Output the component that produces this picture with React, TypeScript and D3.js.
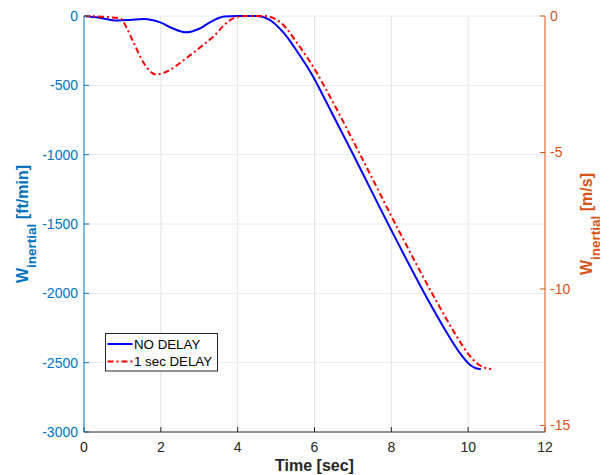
import React from "react";
import * as d3 from "d3";

const xTicks = [0, 2, 4, 6, 8, 10, 12];
const yLeftTicks = [0, -500, -1000, -1500, -2000, -2500, -3000];
const yRightTicks = [0, -5, -10, -15];

const noDelayTime = [0, 0.4, 0.86, 1.2, 1.56, 2.0, 2.3, 2.65, 3.0, 3.3, 3.65, 4.0, 4.5, 4.8, 5.2, 5.54, 5.97, 6.28, 7.0, 8.0, 9.0, 9.5, 9.8, 10.05, 10.2, 10.33];
const noDelayW = [0, -12, -32, -28, -22, -48, -88, -118, -92, -42, -4, 0, 0, -22, -122, -252, -440, -606, -995, -1545, -2070, -2310, -2437, -2517, -2540, -2548];

const delayTime = [0, 0.5, 0.95, 1.1, 1.3, 1.56, 1.87, 2.2, 2.6, 3.1, 3.4, 3.65, 3.9, 4.2, 4.7, 5.0, 5.2, 5.54, 5.97, 6.45, 7.18, 8.19, 9.2, 9.7, 10.0, 10.25, 10.42, 10.6];
const delayW = [0, -6, -18, -80, -197, -341, -421, -395, -317, -209, -140, -65, -15, 0, 0, -25, -68, -192, -368, -606, -995, -1545, -2070, -2310, -2437, -2510, -2536, -2546];

const seriesNames = ["NO DELAY", "1 sec DELAY"];

const LEFT_COLOR = "#0072BD";
const RIGHT_COLOR = "#D95319";
const AX_COLOR = "#262626";
const FONT = "'Liberation Sans', Arial, Helvetica, sans-serif";

export default function App() {
  const left = 84, right = 545, top = 16, bottom = 432;
  const x = d3.scaleLinear().domain([0, 12]).range([left, right]);
  const yL = d3.scaleLinear().domain([-3000, 0]).range([bottom, top]);
  const yR = d3.scaleLinear().domain([-3000 * 0.00508, 0]).range([bottom, top]);

  const line = d3
    .line<[number, number]>()
    .x((d) => x(d[0]))
    .y((d) => yL(d[1]))
    .curve(d3.curveMonotoneX);

  const blue = line(noDelayTime.map((t, i) => [t, noDelayW[i]] as [number, number])) || "";
  const red = line(delayTime.map((t, i) => [t, delayW[i]] as [number, number])) || "";

  const cy = (top + bottom) / 2;
  const cx = (left + right) / 2;

  return (
    <svg width={609} height={475} style={{ position: "absolute", left: 0, top: 0, background: "#fff" }} fontFamily={FONT}>
      <rect x={0} y={0} width={609} height={475} fill="#fff" />
      {/* grid */}
      {xTicks.slice(1, -1).map((t) => (
        <line key={"gx" + t} x1={x(t)} x2={x(t)} y1={top} y2={bottom} stroke="#e3e3e3" strokeWidth={1} />
      ))}
      {yLeftTicks.slice(1, -1).map((v) => (
        <line key={"gy" + v} x1={left} x2={right} y1={yL(v)} y2={yL(v)} stroke="#e2ecf5" strokeWidth={1} />
      ))}
      <line x1={left} x2={right} y1={top} y2={top} stroke="#e2ecf5" strokeWidth={1} />

      {/* curves */}
      <path d={blue} fill="none" stroke="#0000FF" strokeWidth={2} />
      <path d={red} fill="none" stroke="#FF0000" strokeWidth={2} strokeDasharray="6,3,2,3" />

      {/* bottom axis */}
      <line x1={left} x2={right} y1={bottom} y2={bottom} stroke={AX_COLOR} strokeWidth={1} />
      {xTicks.map((t) => (
        <g key={"xt" + t}>
          <line x1={x(t)} x2={x(t)} y1={bottom} y2={bottom - 5} stroke={AX_COLOR} strokeWidth={1} />
          <text x={x(t)} y={452} textAnchor="middle" fontSize={14} fill={AX_COLOR}>
            {t}
          </text>
        </g>
      ))}
      <text x={cx} y={471} textAnchor="middle" fontSize={16} fontWeight="bold" fill={AX_COLOR}>
        Time [sec]
      </text>

      {/* left axis */}
      <line x1={left} x2={left} y1={top} y2={bottom} stroke={LEFT_COLOR} strokeWidth={1} />
      {yLeftTicks.map((v) => (
        <g key={"yl" + v}>
          <line x1={left} x2={left + 5} y1={yL(v)} y2={yL(v)} stroke={LEFT_COLOR} strokeWidth={1} />
          <text x={78} y={yL(v)} dy="0.35em" textAnchor="end" fontSize={14} fill={LEFT_COLOR}>
            {v}
          </text>
        </g>
      ))}
      <text transform={`translate(28,${cy}) rotate(-90)`} textAnchor="middle" fontSize={16} fontWeight="bold" fill={LEFT_COLOR}>
        W<tspan fontSize={13.5} dy={8}>inertial</tspan>
        <tspan dy={-8}> [ft/min]</tspan>
      </text>

      {/* right axis */}
      <line x1={right} x2={right} y1={top} y2={bottom} stroke={RIGHT_COLOR} strokeWidth={1} />
      {yRightTicks.map((v) => (
        <g key={"yr" + v}>
          <line x1={right} x2={right - 5} y1={yR(v)} y2={yR(v)} stroke={RIGHT_COLOR} strokeWidth={1} />
          <text x={550} y={yR(v)} dy="0.35em" textAnchor="start" fontSize={14} fill={RIGHT_COLOR}>
            {v}
          </text>
        </g>
      ))}
      <text transform={`translate(592,${cy}) rotate(-90)`} textAnchor="middle" fontSize={16} fontWeight="bold" fill={RIGHT_COLOR}>
        W<tspan fontSize={13.5} dy={8}>inertial</tspan>
        <tspan dy={-8}> [m/s]</tspan>
      </text>

      {/* legend */}
      <rect x={105.5} y={333.5} width={112} height={37.5} fill="#fff" stroke={AX_COLOR} strokeWidth={1} />
      <line x1={107.5} x2={132.5} y1={344} y2={344} stroke="#0000FF" strokeWidth={2} />
      <text x={134} y={344} dy="0.35em" fontSize={13.3} fill="#000">
        {seriesNames[0]}
      </text>
      <line x1={107.5} x2={132.5} y1={361.5} y2={361.5} stroke="#FF0000" strokeWidth={2} strokeDasharray="6,3,2,3" />
      <text x={134} y={361.5} dy="0.35em" fontSize={13.3} fill="#000">
        {seriesNames[1]}
      </text>
    </svg>
  );
}
